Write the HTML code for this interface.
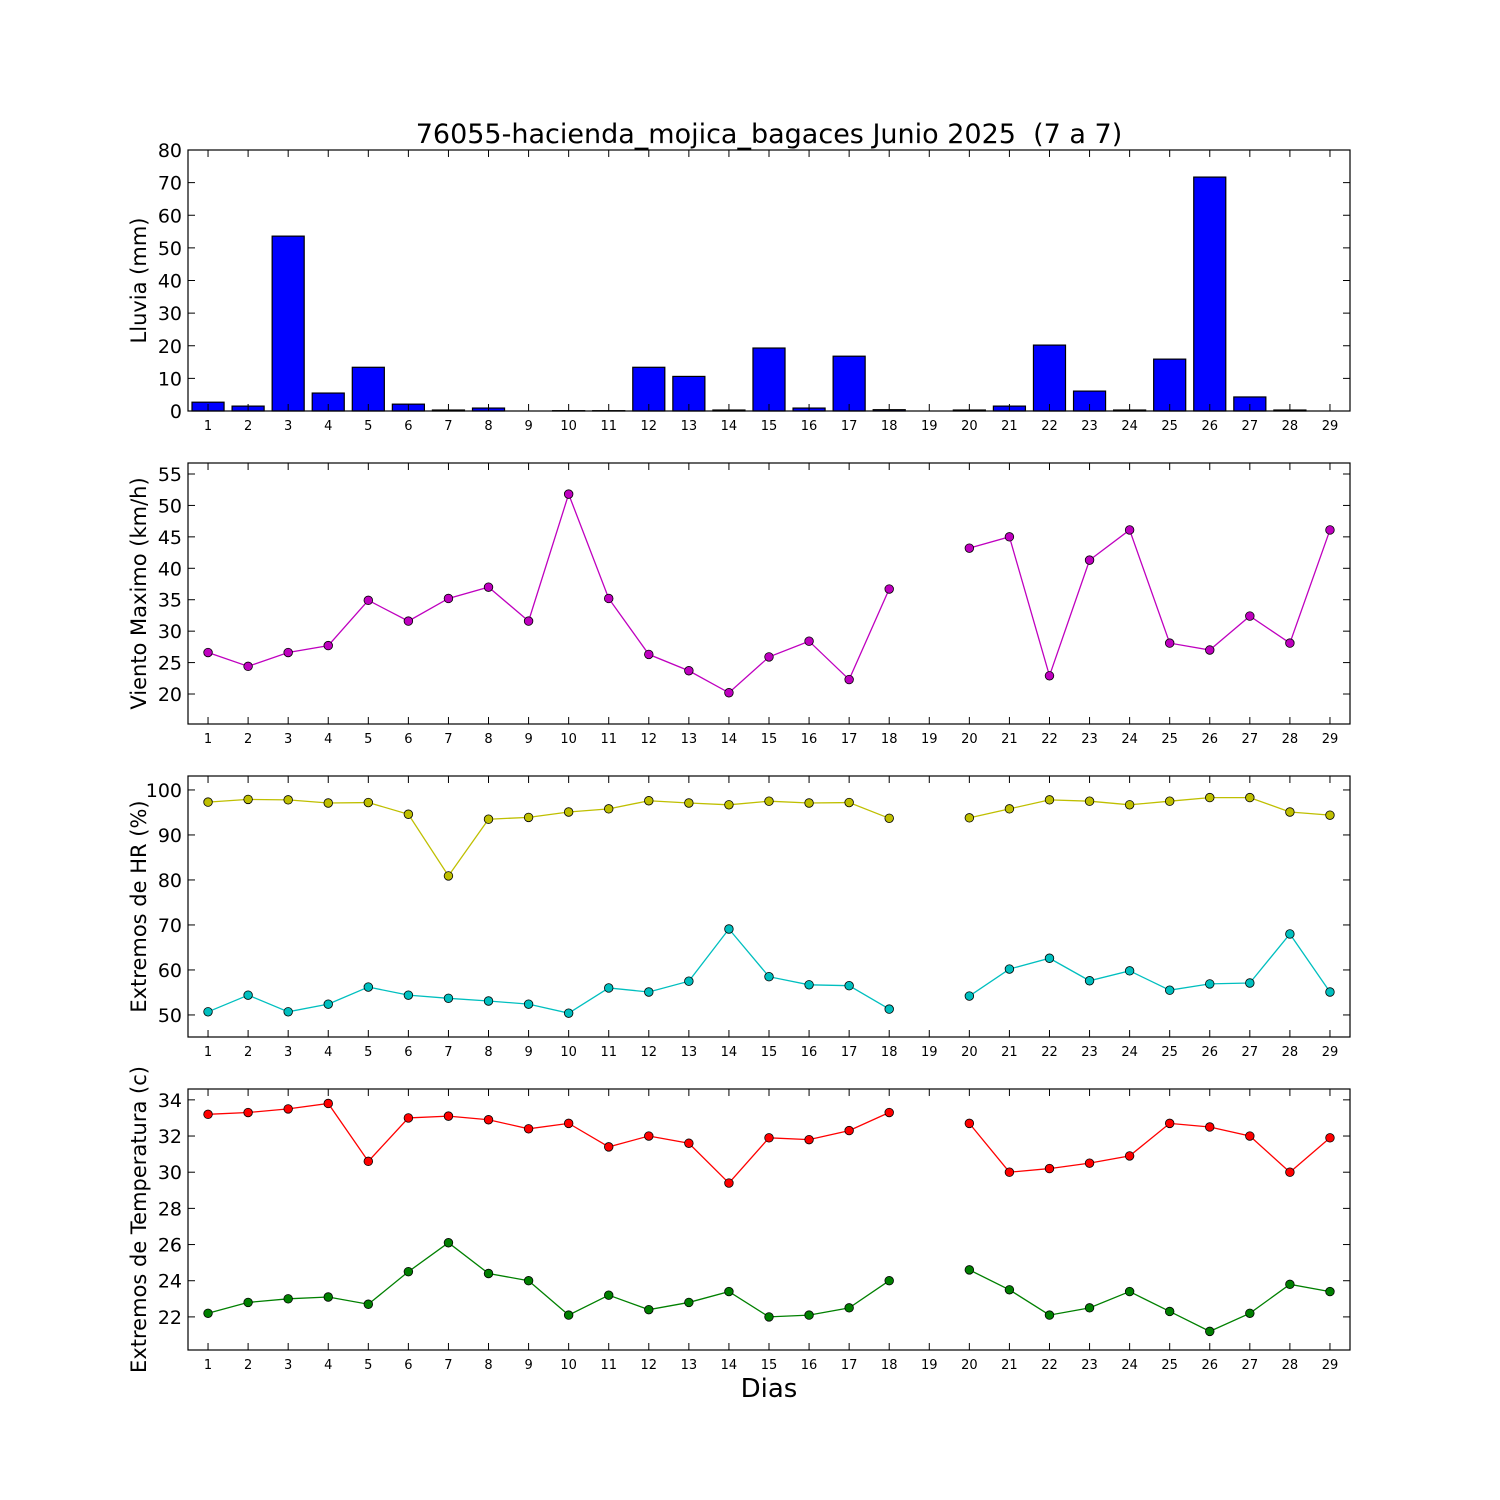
<!DOCTYPE html>
<html><head><meta charset="utf-8"><style>html,body{margin:0;padding:0;background:#fff}svg{display:block}text{font-family:"DejaVu Sans","Liberation Sans",sans-serif}</style></head>
<body>
<svg id="chart" width="1500" height="1500" viewBox="0 0 1500 1500" xmlns="http://www.w3.org/2000/svg">
<text x="769" y="143" font-size="27" text-anchor="middle">76055-hacienda_mojica_bagaces Junio 2025 &#160;(7 a 7)</text>
<text x="769" y="1397" font-size="26" text-anchor="middle">Dias</text>
</svg>
<script>
const days = Array.from({length:29},(_,i)=>i+1);
const rain = [2.7,1.5,53.6,5.5,13.4,2.1,0.3,0.9,0,0.1,0.1,13.4,10.6,0.3,19.3,0.9,16.8,0.4,0,0.3,1.5,20.2,6.1,0.3,15.9,71.7,4.3,0.3,0];
const wind = [26.6,24.4,26.6,27.7,34.9,31.6,35.2,37,31.6,51.8,35.2,26.3,23.7,20.2,25.9,28.4,22.3,36.7,null,43.2,45,22.9,41.3,46.1,28.1,27,32.4,28.1,46.1];
const hrMax = [97.3,97.9,97.8,97.1,97.2,94.6,80.9,93.5,93.9,95.1,95.8,97.6,97.1,96.7,97.5,97.1,97.2,93.7,null,93.8,95.8,97.8,97.5,96.7,97.5,98.3,98.3,95.1,94.4];
const hrMin = [50.7,54.4,50.7,52.4,56.2,54.4,53.7,53.1,52.4,50.4,56,55.1,57.5,69.1,58.5,56.7,56.5,51.3,null,54.2,60.2,62.6,57.6,59.8,55.5,56.9,57.1,68,55.1];
const tMax = [33.2,33.3,33.5,33.8,30.6,33,33.1,32.9,32.4,32.7,31.4,32,31.6,29.4,31.9,31.8,32.3,33.3,null,32.7,30,30.2,30.5,30.9,32.7,32.5,32,30,31.9];
const tMin = [22.2,22.8,23,23.1,22.7,24.5,26.1,24.4,24,22.1,23.2,22.4,22.8,23.4,22,22.1,22.5,24,null,24.6,23.5,22.1,22.5,23.4,22.3,21.2,22.2,23.8,23.4];
const rainTicks = [0,10,20,30,40,50,60,70,80];
const windTicks = [20,25,30,35,40,45,50,55];
const hrTicks = [50,60,70,80,90,100];
const tTicks = [22,24,26,28,30,32,34];

const svg = document.getElementById('chart');
const NS = 'http://www.w3.org/2000/svg';
const L = 188, R = 1350;
const xS = d => L + (d - 0.5) / 29 * (R - L);
function mk(tag, attrs, parent){const e=document.createElementNS(NS,tag);for(const k in attrs)e.setAttribute(k,attrs[k]);(parent||svg).appendChild(e);return e;}

function panel(name, top, bot, ymin, ymax, ticks, label){
  const g = mk('g',{});
  
  
  const yS = v => bot - (v - ymin)/(ymax - ymin)*(bot - top);
  return {g, yS, top, bot, ticks, label, name};
}
function frame(p){
  const {g,yS,top,bot,ticks,label,name} = p;
  const fr = mk('rect',{x:L,y:top,width:R-L,height:bot-top,fill:'none',stroke:'#000','stroke-width':1.2},g);
  
  
  ticks.forEach(t=>{
    const y=yS(t);
    mk('line',{x1:L,x2:L+7,y1:y,y2:y,stroke:'#000'},g);
    mk('line',{x1:R-7,x2:R,y1:y,y2:y,stroke:'#000'},g);
    const tx = mk('text',{x:L-6,y:y+7,'font-size':19,'text-anchor':'end'},g);
    tx.textContent=t;
    
    
  });
  days.forEach(d=>{
    const x=xS(d);
    mk('line',{x1:x,x2:x,y1:bot,y2:bot-7,stroke:'#000'},g);
    mk('line',{x1:x,x2:x,y1:top,y2:top+7,stroke:'#000'},g);
    const tx = mk('text',{x:x,y:bot+19,'font-size':13,'text-anchor':'middle'},g);
    tx.textContent=d;
    
    
  });
  const cy=(top+bot)/2;
  const yl = mk('text',{x:0,y:0,'font-size':21,'text-anchor':'middle',transform:`translate(146,${cy}) rotate(-90)`},g);
  yl.textContent=label;
  
  
}
function series(p, vals, color, sname){
  const {g,yS}=p;
  let segs=[],cur=[];
  vals.forEach((v,i)=>{ if(v===null){if(cur.length)segs.push(cur);cur=[];} else cur.push([xS(days[i]),yS(v)]); });
  if(cur.length)segs.push(cur);
  segs.forEach(s=>{
    const pl = mk('polyline',{points:s.map(q=>q.join(',')).join(' '),fill:'none',stroke:color,'stroke-width':1.3},g);
    
    
  });
  vals.forEach((v,i)=>{ if(v===null)return;
    const c = mk('circle',{cx:xS(days[i]),cy:yS(v),r:4.3,fill:color,stroke:'#000','stroke-width':0.8},g);
    
    
  });
}

const p1 = panel('rain',150,411,0,80,rainTicks,'Lluvia (mm)');
rain.forEach((v,i)=>{
  const x0 = xS(days[i]-0.4), x1 = xS(days[i]+0.4);
  const b = mk('rect',{x:x0,y:p1.yS(v),width:x1-x0,height:p1.yS(0)-p1.yS(v),fill:'#0000ff',stroke:'#000','stroke-width':1.2},p1.g);
  
  
});
frame(p1);

const p2 = panel('wind',463,724,15.23,56.75,windTicks,'Viento Maximo (km/h)');
series(p2, wind, '#bf00bf', 'wind');
frame(p2);

const p3 = panel('humidity',776,1037,45.1,103.1,hrTicks,'Extremos de HR (%)');
series(p3, hrMax, '#bfbf00', 'hr-max');
series(p3, hrMin, '#00bfbf', 'hr-min');
frame(p3);

const p4 = panel('temperature',1089,1350,20.17,34.6,tTicks,'Extremos de Temperatura (c)');
series(p4, tMax, '#ff0000', 'temp-max');
series(p4, tMin, '#008000', 'temp-min');
frame(p4);
</script>
</body></html>
